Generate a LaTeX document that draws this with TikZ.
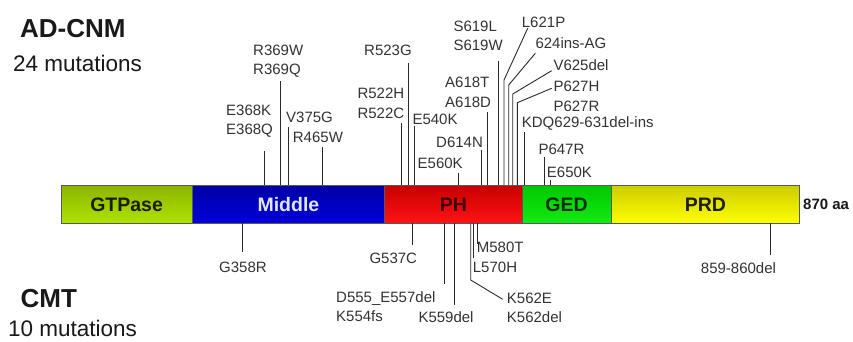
\documentclass[tikz,border=0pt]{standalone}
\usepackage{fontspec}
\setmainfont{Liberation Sans}
\begin{document}
\begin{tikzpicture}[x=1pt,y=-1pt]
\definecolor{txt}{HTML}{333333}
\definecolor{ln}{HTML}{2A2A2A}
\tikzset{
  mut/.style={anchor=base west, inner sep=0pt, font=\fontsize{15}{19}\selectfont, text=txt},
  lead/.style={draw=ln, line width=0.9pt},
  dom/.style={draw=black!65, line width=0.8pt, minimum height=38.3pt, inner sep=0pt, anchor=north west,
     font=\fontsize{19.5}{22}\selectfont\bfseries},
  ttl/.style={anchor=base west, inner sep=0pt, font=\fontsize{26}{30}\selectfont\bfseries, text=black!90},
  cnt/.style={anchor=base west, inner sep=0pt, font=\fontsize{22.5}{26}\selectfont, text=black!90}
}
\useasboundingbox[fill=white] (0,0) rectangle (853,342);

% titles
\node[ttl] (adcnm) at (20,37.3) {AD-CNM};
\node[cnt] (n24) at (13,71.5) {24 mutations};
\node[ttl] (cmt) at (20.5,307) {CMT};
\node[cnt] (n10) at (8,336.5) {10 mutations};

% domains
\node[dom, minimum width=131pt, top color={rgb,255:red,140;green,180;blue,0}, bottom color={rgb,255:red,175;green,228;blue,0}, text={rgb,255:red,25;green,30;blue,0}] (gtp) at (60.7,185) {GTPase};
\node[dom, minimum width=192.6pt, top color={rgb,255:red,0;green,0;blue,165}, bottom color={rgb,255:red,0;green,0;blue,220}, text={rgb,255:red,225;green,230;blue,255}] (mid) at (191.7,185) {Middle};
\node[dom, minimum width=137.4pt, top color={rgb,255:red,200;green,0;blue,0}, bottom color={rgb,255:red,255;green,20;blue,20}, text={rgb,255:red,60;green,0;blue,0}] (ph) at (384.3,185) {PH};
\node[dom, minimum width=89pt, top color={rgb,255:red,0;green,200;blue,0}, bottom color={rgb,255:red,20;green,235;blue,20}, text={rgb,255:red,0;green,45;blue,0}] (ged) at (521.7,185) {GED};
\node[dom, minimum width=188.6pt, top color={rgb,255:red,205;green,205;blue,0}, bottom color={rgb,255:red,255;green,255;blue,0}, text={rgb,255:red,30;green,30;blue,0}] (prd) at (610.7,185) {PRD};
\node[anchor=base west, inner sep=0pt, font=\fontsize{15}{18}\selectfont\bfseries, text=black!90] (aa) at (803,209.5) {870 aa};

% ---------- upper mutations ----------
\node[mut] (E368K) at (226,115.4) {E368K};
\node[mut] (E368Q) at (226,134.4) {E368Q};
\coordinate (bE368) at (264.3,185); \coordinate (tE368) at (264.3,150.7);
\draw[lead] (bE368) -- (tE368);

\node[mut] (R369W) at (253,55.4) {R369W};
\node[mut] (R369Q) at (253,75.0) {R369Q};
\coordinate (bR369) at (280.3,185); \coordinate (tR369) at (280.3,80.7);
\draw[lead] (bR369) -- (tR369);

\node[mut] (V375G) at (286,122.7) {V375G};
\coordinate (bV375) at (288.7,185); \coordinate (tV375) at (288.7,126.7);
\draw[lead] (bV375) -- (tV375);

\node[mut] (R465W) at (292.7,142.7) {R465W};
\coordinate (bR465) at (322,185); \coordinate (tR465) at (322,147);
\draw[lead] (bR465) -- (tR465);

\node[mut] (R522H) at (357.3,98.7) {R522H};
\node[mut] (R522C) at (357.3,118.1) {R522C};
\coordinate (bR522) at (401.3,185); \coordinate (tR522) at (401.3,122.5);
\draw[lead] (bR522) -- (tR522);

\node[mut] (R523G) at (364,55.4) {R523G};
\coordinate (bR523) at (408.3,185); \coordinate (tR523) at (408.3,63);
\draw[lead] (bR523) -- (tR523);

\node[mut] (E540K) at (412.3,124.7) {E540K};
\coordinate (bE540) at (414.7,185); \coordinate (tE540) at (414.7,126);
\draw[lead] (bE540) -- (tE540);

\node[mut] (E560K) at (417.5,168.7) {E560K};
\coordinate (bE560) at (458.3,185); \coordinate (tE560) at (458.3,173);
\draw[lead] (bE560) -- (tE560);

\node[mut] (D614N) at (436,147.1) {D614N};
\coordinate (bD614) at (481.7,185); \coordinate (tD614) at (481.7,150);
\draw[lead] (bD614) -- (tD614);

\node[mut] (A618T) at (445,87.1) {A618T};
\node[mut] (A618D) at (445,107.1) {A618D};
\coordinate (bA618) at (487.3,185); \coordinate (tA618) at (487.3,111.7);
\draw[lead] (bA618) -- (tA618);

\node[mut] (S619L) at (453.3,31.4) {S619L};
\node[mut] (S619W) at (453.3,50.4) {S619W};
\coordinate (bS619) at (498.3,185); \coordinate (tS619) at (498.3,60.7);
\draw[lead] (bS619) -- (tS619);

\node[mut] (L621P) at (521.7,27.1) {L621P};
\coordinate (bL621) at (504,185); \coordinate (kL621) at (504,80); \coordinate (tL621) at (527.7,28.3);
\draw[lead] (bL621) -- (kL621) -- (tL621);

\node[mut] (ins624) at (535.3,48.7) {624ins-AG};
\coordinate (b624) at (508.7,185); \coordinate (k624) at (508.7,85); \coordinate (t624) at (535.3,53.3);
\draw[lead] (b624) -- (k624) -- (t624);

\node[mut] (V625) at (553.3,70.4) {V625del};
\coordinate (bV625) at (512.7,185); \coordinate (kV625) at (512.7,94); \coordinate (tV625) at (551.7,70.7);
\draw[lead] (bV625) -- (kV625) -- (tV625);

\node[mut] (P627H) at (553.3,91.4) {P627H};
\node[mut] (P627R) at (553.3,111.0) {P627R};
\coordinate (bP627) at (517.3,185); \coordinate (kP627) at (517.3,102.7); \coordinate (tP627) at (551.7,88.3);
\draw[lead] (bP627) -- (kP627) -- (tP627);

\node[mut] (KDQ) at (521.7,127.1) {KDQ629-631del-ins};
\coordinate (bKDQ) at (524,185); \coordinate (tKDQ) at (524,131.7);
\draw[lead] (bKDQ) -- (tKDQ);

\node[mut] (P647R) at (538.3,154.7) {P647R};
\coordinate (bP647) at (544.3,185); \coordinate (tP647) at (544.3,156.7);
\draw[lead] (bP647) -- (tP647);

\node[mut] (E650K) at (546.7,177.1) {E650K};
\coordinate (bE650) at (550.3,185); \coordinate (tE650) at (550.3,180);
\draw[lead] (bE650) -- (tE650);

% ---------- lower mutations ----------
\node[mut] (G358R) at (219,272.1) {G358R};
\coordinate (bG358) at (242.7,223.3); \coordinate (tG358) at (242.7,251.7);
\draw[lead] (bG358) -- (tG358);

\node[mut] (G537C) at (369.3,263.7) {G537C};
\coordinate (bG537) at (412,223.3); \coordinate (tG537) at (412,245);
\draw[lead] (bG537) -- (tG537);

\node[mut] (D555) at (336,302.1) {D555\_E557del};
\node[mut] (K554) at (336,321.1) {K554fs};
\coordinate (bD555) at (444.3,223.3); \coordinate (tD555) at (444.3,284);
\draw[lead] (bD555) -- (tD555);

\node[mut] (K559) at (418.3,322.7) {K559del};
\coordinate (bK559) at (454,223.3); \coordinate (tK559) at (454,305);
\draw[lead] (bK559) -- (tK559);

\node[mut] (K562E) at (506.7,303.7) {K562E};
\node[mut] (K562d) at (506.7,322.7) {K562del};
\coordinate (bK562) at (470.7,223.3); \coordinate (kK562) at (470.7,280); \coordinate (tK562) at (502.7,299.3);
\draw[lead] (bK562) -- (kK562) -- (tK562);

\node[mut] (L570H) at (472.7,272.7) {L570H};
\coordinate (bL570) at (473.3,223.3); \coordinate (tL570) at (473.3,258);
\draw[lead] (bL570) -- (tL570);

\node[mut] (M580T) at (476.7,252.1) {M580T};
\coordinate (bM580) at (477.7,223.3); \coordinate (tM580) at (477.7,244);
\draw[lead] (bM580) -- (tM580);

\node[mut] (del859) at (700.7,273.7) {859-860del};
\coordinate (b859) at (770.7,223.3); \coordinate (t859) at (770.7,255);
\draw[lead] (b859) -- (t859);
\end{tikzpicture}
\end{document}
